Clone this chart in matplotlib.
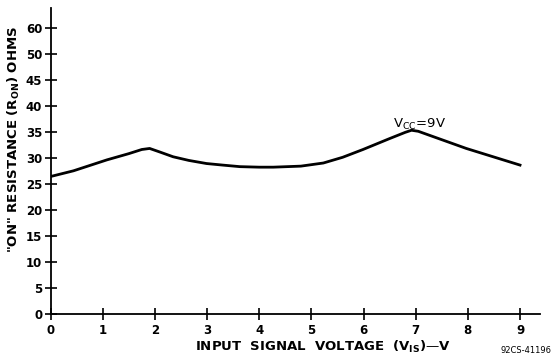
import numpy as np
import matplotlib.pyplot as plt

# values
vis = [0, 0.44, 1.08, 1.5, 1.75, 1.9, 2.1, 2.35, 2.65, 2.99, 3.3, 3.63, 4.0, 4.27, 4.8, 5.23,
       5.6, 5.99, 6.5, 6.8, 6.92, 7.05, 7.97, 9.0]
ron = [26.5, 27.6, 29.7, 30.9, 31.7, 31.9, 31.2, 30.3, 29.6, 29.0, 28.7, 28.4, 28.3, 28.3,
       28.5, 29.1, 30.2, 31.7, 33.8, 35.0, 35.4, 35.2, 31.9, 28.7]

x_ticks = [0, 1, 2, 3, 4, 5, 6, 7, 8, 9]
y_ticks = [0, 5, 10, 15, 20, 25, 30, 35, 40, 45, 50, 55]
y_labels = ["0", "5", "10", "15", "20", "25", "30", "35", "40", "45", "50", "60"]

plt.rcParams['font.family'] = 'DejaVu Sans'
fig = plt.figure(figsize=(5.51, 3.59), dpi=100)
ax = fig.add_axes([0.0917, 0.1245, 0.889, 0.853])

ax.plot(vis, ron, color='black', linewidth=2.0, solid_joinstyle='round')

ax.set_xlim(0, 9.39)
ax.set_ylim(0, 58.9)
ax.set_xticks(x_ticks)
ax.set_yticks(y_ticks)
ax.set_yticklabels(y_labels)
for lab in ax.get_xticklabels() + ax.get_yticklabels():
    lab.set_fontweight('bold')
    lab.set_fontsize(8.5)

ax.spines['top'].set_visible(False)
ax.spines['right'].set_visible(False)
ax.spines['left'].set_linewidth(1.3)
ax.spines['bottom'].set_linewidth(1.3)
ax.tick_params(direction='inout', length=8, width=1.2, pad=2)
ax.tick_params(axis='x', pad=3)

ax.text(0.556, -0.107, r"INPUT  SIGNAL  VOLTAGE  (V$_{\mathregular{IS}}$)—V", fontsize=9.5,
        fontweight='bold', ha='center', va='center', transform=ax.transAxes)
ax.text(-0.0755, 0.572, r'"ON" RESISTANCE (R$_{\mathregular{ON}}$) OHMS', fontsize=9.5,
        fontweight='bold', ha='center', va='center', rotation=90, transform=ax.transAxes)

ax.text(6.56, 35.9, r"V$_{\mathregular{CC}}$=9V", fontsize=9.5, ha='left', va='baseline')
fig.text(0.955, 0.01, "92CS-41196", fontsize=6, ha='center', va='bottom')

plt.savefig('out.png', dpi=100)
